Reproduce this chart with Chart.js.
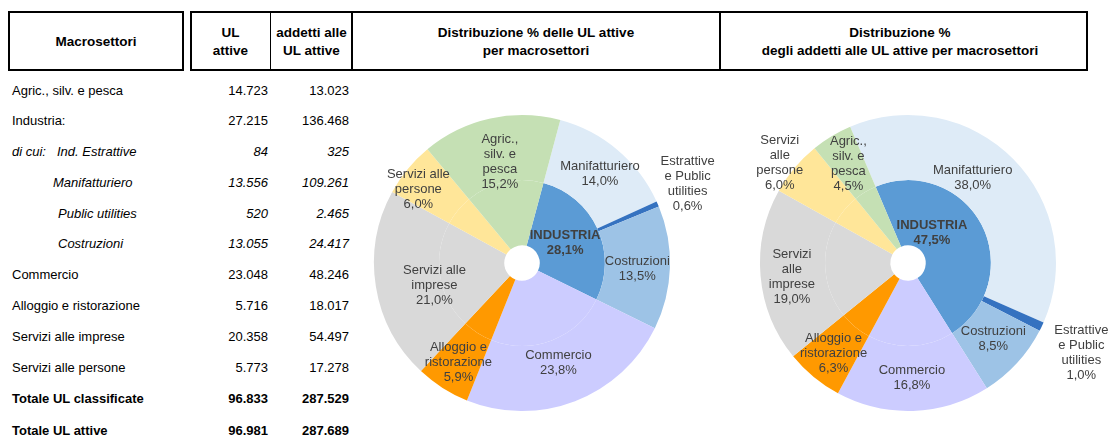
<!DOCTYPE html>
<html>
<head>
<meta charset="utf-8">
<script src="https://cdn.jsdelivr.net/npm/chart.js@4"></script>
<style>
body { margin: 0; background: #fff; font-family: "Liberation Sans", Arial, sans-serif; }
#page { position: relative; width: 1109px; height: 439px; overflow: hidden; }
.box { position: absolute; border: 2px solid #000; box-sizing: border-box; }
.vline { position: absolute; top: 11px; height: 60px; background: #000; }
.hd { position: absolute; font-weight: bold; font-size: 13.5px; text-align: center; line-height: 18px; color: #000; white-space: nowrap; }
.cell { position: absolute; font-size: 13px; white-space: nowrap; color: #000; line-height: 16px; }
.num { text-align: right; }
canvas { position: absolute; }
</style>
</head>
<body>
<div id="page">
  <div class="box" style="left:8px;top:11px;width:176px;height:60px;"></div>
  <div class="box" style="left:190px;top:11px;width:898px;height:60px;"></div>
  <div class="vline" style="left:270px;width:1px;"></div>
  <div class="vline" style="left:351px;width:2px;"></div>
  <div class="vline" style="left:719px;width:2px;"></div>

  <div class="hd" style="left:8px;top:33px;width:176px;">Macrosettori</div>
  <div class="hd" style="left:190px;top:24px;width:81px;">UL<br>attive</div>
  <div class="hd" style="left:271px;top:24px;width:81px;">addetti alle<br>UL attive</div>
  <div class="hd" style="left:352px;top:24px;width:368px;">Distribuzione % delle UL attive<br>per macrosettori</div>
  <div class="hd" style="left:720px;top:24px;width:360px;">Distribuzione %<br>degli addetti alle UL attive per macrosettori</div>

  <div id="rows"></div>
  <canvas id="ulChart" width="368" height="330" style="left:352px;top:100px;"></canvas>
  <canvas id="addChart" width="389" height="330" style="left:720px;top:100px;"></canvas>
</div>
<script>
// tabella
const rowLabels = ['Agric., silv. e pesca', 'Industria:', 'di cui:', 'Manifatturiero', 'Public utilities', 'Costruzioni',
    'Commercio', 'Alloggio e ristorazione', 'Servizi alle imprese', 'Servizi alle persone', 'Totale UL classificate', 'Totale UL attive'];
const rowSubLabels = ['', '', 'Ind. Estrattive', '', '', '', '', '', '', '', '', ''];
const ulAttive = ['14.723', '27.215', '84', '13.556', '520', '13.055', '23.048', '5.716', '20.358', '5.773', '96.833', '96.981'];
const addettiAttive = ['13.023', '136.468', '325', '109.261', '2.465', '24.417', '48.246', '18.017', '54.497', '17.278', '287.529', '287.689'];
const rowStyle = ['', '', 'i', 'i', 'i', 'i', '', '', '', '', 'b', 'b'];
const rowIndent = [12, 12, 12, 53, 58, 58, 12, 12, 12, 12, 12, 12];
const rowY = [91, 121, 152, 183, 214, 244, 275, 306, 337, 368, 399, 431];

const outerNamesUL = ['Manifatturiero', 'Estrattive\ne Public\nutilities', 'Costruzioni', 'Commercio',
    'Alloggio e\nristorazione', 'Servizi alle\nimprese', 'Servizi alle\npersone', 'Agric.,\nsilv. e\npesca'];
const outerNamesAdd = ['Manifatturiero', 'Estrattive\ne Public\nutilities', 'Costruzioni', 'Commercio',
    'Alloggio e\nristorazione', 'Servizi\nalle\nimprese', 'Servizi\nalle\npersone', 'Agric.,\nsilv. e\npesca'];
const innerNames = ['INDUSTRIA', 'Commercio', 'Alloggio e ristorazione', 'Servizi alle imprese', 'Servizi alle persone', 'Agric., silv. e pesca'];

const outerUL = [14.0, 0.6, 13.5, 23.8, 5.9, 21.0, 6.0, 15.2];
const innerUL = [28.1, 23.8, 5.9, 21.0, 6.0, 15.2];
const outerAdd = [38.0, 1.0, 8.5, 16.8, 6.3, 19.0, 6.0, 4.5];
const innerAdd = [47.5, 16.8, 6.3, 19.0, 6.0, 4.5];

const outerColors = ['#deebf7', '#3572c0', '#9dc3e6', '#ccccff', '#ff9900', '#d9d9d9', '#ffe699', '#c5e0b4'];
const innerColors = ['#5b9bd5', '#ccccff', '#ff9900', '#d9d9d9', '#ffe699', '#c5e0b4'];

// posizione etichette: [distanza / raggio, scarto angolare in gradi]
const labelPosUL = [[0.80, 1], [1.24, -2], [0.78, 1], [0.72, 1], [0.80, 0], [0.61, -5], [0.86, -4], [0.70, 0]];
const labelPosAdd = [[0.72, -8], [1.32, 2], [0.77, -1], [0.78, 0], [0.79, 0], [0.79, -2], [1.10, -2], [0.78, 0]];

function buildRows() {
    const host = document.getElementById('rows');
    rowLabels.forEach((lab, i) => {
        const style = (rowStyle[i] == 'i' ? 'font-style:italic;' : '') + (rowStyle[i] == 'b' ? 'font-weight:bold;' : '');
        const top = rowY[i] - 8;
        let html = '<div class="cell" style="left:' + rowIndent[i] + 'px;top:' + top + 'px;' + style + '">' + lab + '</div>';
        if (rowSubLabels[i]) {
            html += '<div class="cell" style="left:57px;top:' + top + 'px;' + style + '">' + rowSubLabels[i] + '</div>';
        }
        html += '<div class="cell num" style="left:190px;width:78px;top:' + top + 'px;' + style + '">' + ulAttive[i] + '</div>';
        html += '<div class="cell num" style="left:271px;width:78px;top:' + top + 'px;' + style + '">' + addettiAttive[i] + '</div>';
        host.insertAdjacentHTML('beforeend', html);
    });
}

function fmt(v) {
    return v.toFixed(1).replace('.', ',') + '%';
}

const sliceLabels = {
    id: 'sliceLabels',
    afterDatasetsDraw(chart, args, opts) {
        const ctx = chart.ctx;
        const R = chart.getDatasetMeta(0).data[0].outerRadius;
        ctx.save();
        ctx.textAlign = 'center';
        ctx.textBaseline = 'middle';
        opts.items.forEach(it => {
            const arc = chart.getDatasetMeta(it.ds).data[it.i];
            const mid = (arc.startAngle + arc.endAngle) / 2 + it.da * Math.PI / 180;
            const cx = arc.x + Math.cos(mid) * it.r * R;
            const cy = arc.y + Math.sin(mid) * it.r * R;
            const lines = it.text.split('\n');
            ctx.font = (it.bold ? 'bold ' : '') + '13px "Liberation Sans", Arial, sans-serif';
            ctx.fillStyle = '#404040';
            const lh = 15;
            lines.forEach((l, k) => {
                ctx.fillText(l, cx, cy + (k - (lines.length - 1) / 2) * lh);
            });
        });
        ctx.restore();
    }
};

function createSunburst(canvasId, outerData, innerData, names, pos, rotation, pad) {
    const items = outerData.map((v, i) => ({
        ds: 0, i: i, r: pos[i][0], da: pos[i][1], text: names[i] + '\n' + fmt(v)
    }));
    items.push({ ds: 1, i: 0, r: pad.ir, da: pad.ida, text: innerNames[0] + '\n' + fmt(innerData[0]), bold: true });
    const ctx = document.getElementById(canvasId).getContext('2d');
    return new Chart(ctx, {
        type: 'doughnut',
        data: {
            datasets: [
                { data: outerData, backgroundColor: outerColors, borderWidth: 0 },
                { data: innerData, backgroundColor: innerColors, borderWidth: 0 }
            ]
        },
        options: {
            responsive: false,
            animation: false,
            rotation: rotation,
            cutout: '12%',
            layout: { padding: { left: pad.l, right: pad.r, top: 15, bottom: 19 } },
            plugins: {
                legend: { display: false },
                tooltip: { enabled: false },
                sliceLabels: { items: items }
            }
        },
        plugins: [sliceLabels]
    });
}

buildRows();
createSunburst('ulChart', outerUL, innerUL, outerNamesUL, labelPosUL, 15, { l: 22, r: 50, ir: 0.32, ida: 0 });
createSunburst('addChart', outerAdd, innerAdd, outerNamesAdd, labelPosAdd, -23, { l: 40, r: 53, ir: 0.26, ida: -24 });
</script>
</body>
</html>
